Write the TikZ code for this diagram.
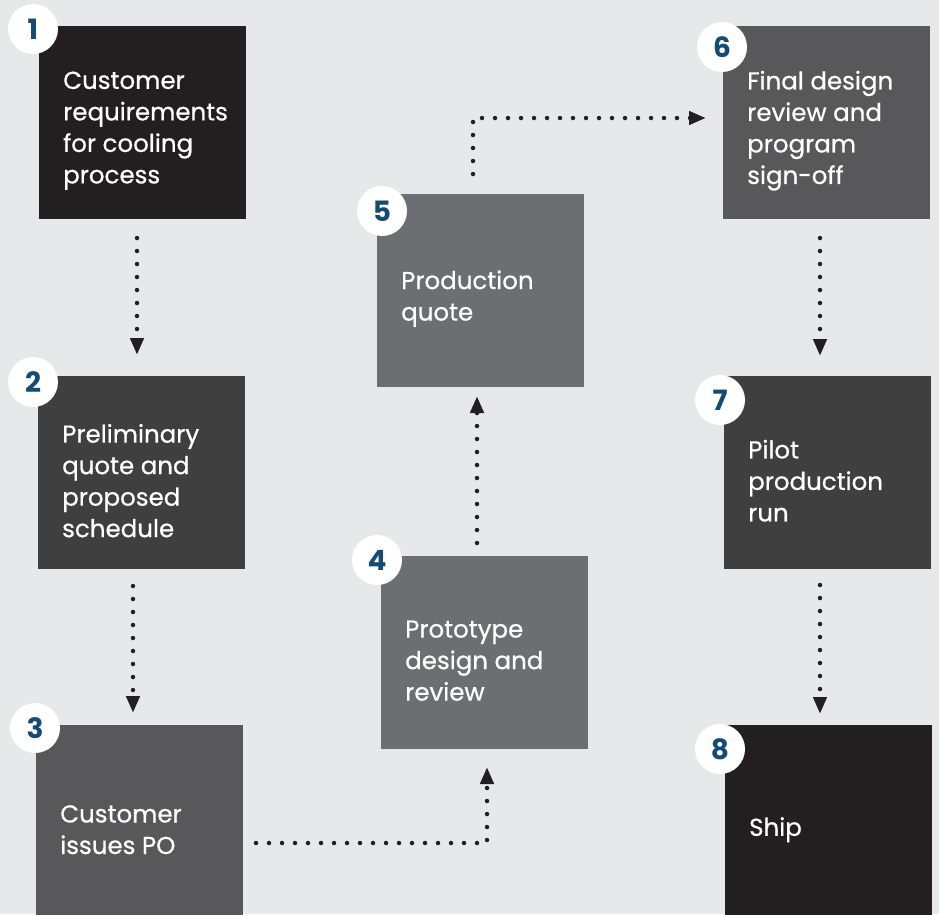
\documentclass[tikz,border=0pt]{standalone}
\usepackage{fontspec}
\setmainfont{Poppins}
\newfontfamily\boxfont{Poppins}[FakeBold=0.6]
\usetikzlibrary{arrows.meta}
\definecolor{bg}{HTML}{E7E8EA}
\definecolor{cA}{HTML}{231F20}
\definecolor{cB}{HTML}{3F3F40}
\definecolor{cC}{HTML}{58585A}
\definecolor{cD}{HTML}{6D6E71}
\definecolor{navy}{HTML}{134B74}
\tikzset{
  stepbox/.style={rectangle, anchor=north west, minimum width=207pt, minimum height=193pt, inner sep=0pt},
  steptext/.style={anchor=west, inner sep=0pt, align=left, text=white,
    font=\boxfont\fontsize{24.5}{31.5}\selectfont},
  badge/.style={circle, fill=white, minimum size=50pt, inner sep=0pt, text=navy,
    font=\fontsize{28}{28}\selectfont\bfseries},
  flow/.style={draw=cA, line width=4.5pt, line cap=round, dash pattern=on 0pt off 13pt,
    -{Triangle[length=17pt,width=13pt]}},
}
\begin{document}
\begin{tikzpicture}[x=1pt,y=-1pt]
\clip (0,0) rectangle (939,914);
\fill[bg] (0,0) rectangle (939,914);
\useasboundingbox (0,0) rectangle (939,914);

\node[stepbox, fill=cA] (b1) at (39,26) {};
\node[stepbox, fill=cB] (b2) at (38,376) {};
\node[stepbox, fill=cC] (b3) at (36,725) {};
\node[stepbox, fill=cD] (b4) at (381,556) {};
\node[stepbox, fill=cD] (b5) at (377,194) {};
\node[stepbox, fill=cC] (b6) at (723,26) {};
\node[stepbox, fill=cB] (b7) at (724,376) {};
\node[stepbox, fill=cA] (b8) at (725,725) {};

\node[steptext] (t1) at ([xshift=24pt,yshift=-8pt]b1.west) {Customer\\requirements\\for cooling\\process};
\node[steptext] (t2) at ([xshift=24pt,yshift=-8pt]b2.west) {Preliminary\\quote and\\proposed\\schedule};
\node[steptext] (t3) at ([xshift=24pt,yshift=-8pt]b3.west) {Customer\\issues PO};
\node[steptext] (t4) at ([xshift=24pt,yshift=-8pt]b4.west) {Prototype\\design and\\review};
\node[steptext] (t5) at ([xshift=24pt,yshift=-8pt]b5.west) {Production\\quote};
\node[steptext] (t6) at ([xshift=24pt,yshift=-8pt]b6.west) {Final design\\review and\\program\\sign-off};
\node[steptext] (t7) at ([xshift=24pt,yshift=-8pt]b7.west) {Pilot\\production\\run};
\node[steptext] (t8) at ([xshift=24pt,yshift=-8pt]b8.west) {Ship};

\node[badge] (n1) at (33,29) {1};
\node[badge] (n2) at (33,382) {2};
\node[badge] (n3) at (35,728) {3};
\node[badge] (n4) at (377,560) {4};
\node[badge] (n5) at (382,211) {5};
\node[badge] (n6) at (722,47) {6};
\node[badge] (n7) at (720,400) {7};
\node[badge] (n8) at (720,749) {8};

\coordinate (s12) at (137,238); \coordinate (e12) at (137,355);
\coordinate (s23) at (133,586); \coordinate (e23) at (133,713);
\coordinate (s34) at (256,843); \coordinate (e34) at (487,767);
\coordinate (s45) at (477,543); \coordinate (e45) at (477,396);
\coordinate (s56) at (473,174); \coordinate (e56) at (706,118);
\coordinate (s67) at (820,238); \coordinate (e67) at (820,356);
\coordinate (s78) at (820,585); \coordinate (e78) at (820,714);

\draw[flow] (s12) -- (e12);
\draw[flow] (s23) -- (e23);
\draw[flow] (s34) -| (e34);
\draw[flow] (s45) -- (e45);
\draw[flow] (s56) |- (e56);
\draw[flow] (s67) -- (e67);
\draw[flow] (s78) -- (e78);
\end{tikzpicture}
\end{document}
